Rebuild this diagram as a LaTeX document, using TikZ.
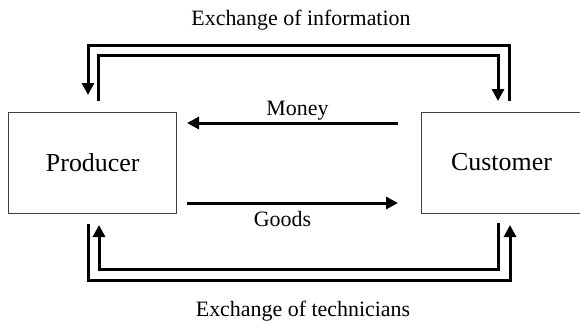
\documentclass[tikz,border=0pt]{standalone}
\usepackage{fontspec}
\setmainfont{Liberation Serif}
\usetikzlibrary{arrows.meta}
\begin{document}
\begin{tikzpicture}[x=1bp,y=-1bp,
  box/.style={draw=black!75, line width=1bp, rectangle, inner sep=0pt,
    minimum height=101bp, font=\fontsize{26}{30}\selectfont},
  lbl/.style={font=\fontsize{22}{26}\selectfont, inner sep=0pt, anchor=base},
  flow/.style={line width=3bp, line join=miter, -{Triangle[length=12bp,width=12bp]}}]
\useasboundingbox (0,0) rectangle (580,323);

% the two parties
\node[box, minimum width=167.5bp] (prod) at (92.75,162.5) {Producer};
\node[box, minimum width=161bp] (cust) at (501.5,162.5) {Customer};

% end points of the exchange loops
\coordinate (custInfoOut) at (509,101);
\coordinate (prodInfoIn)  at (88,95);
\coordinate (prodInfoOut) at (98,101);
\coordinate (custInfoIn)  at (498,101);
\coordinate (prodTechOut) at (88,224);
\coordinate (custTechIn)  at (510,225);
\coordinate (custTechOut) at (498,223);
\coordinate (prodTechIn)  at (99,225);

% money and goods
\coordinate (moneyFrom) at (398,123);
\coordinate (moneyTo)   at (187,123);
\coordinate (goodsFrom) at (187,203);
\coordinate (goodsTo)   at (398,203);

% information flow (top loop)
\draw[flow] (custInfoOut) -- (custInfoOut |- 0,45) -- (prodInfoIn |- 0,45) -- (prodInfoIn);
\draw[flow] (prodInfoOut) -- (prodInfoOut |- 0,55) -- (custInfoIn |- 0,55) -- (custInfoIn);

% technician flow (bottom loop)
\draw[flow] (prodTechOut) -- (prodTechOut |- 0,280) -- (custTechIn |- 0,280) -- (custTechIn);
\draw[flow] (custTechOut) -- (custTechOut |- 0,269) -- (prodTechIn |- 0,269) -- (prodTechIn);

\draw[flow] (moneyFrom) -- (moneyTo);
\draw[flow] (goodsFrom) -- (goodsTo);

% labels
\node[lbl] (infoLbl)  at (301,25.5) {Exchange of information};
\node[lbl] (moneyLbl) at (297.5,115) {Money};
\node[lbl] (goodsLbl) at (282.5,226.5) {Goods};
\node[lbl] (techLbl)  at (303,316) {Exchange of technicians};
\end{tikzpicture}
\end{document}
